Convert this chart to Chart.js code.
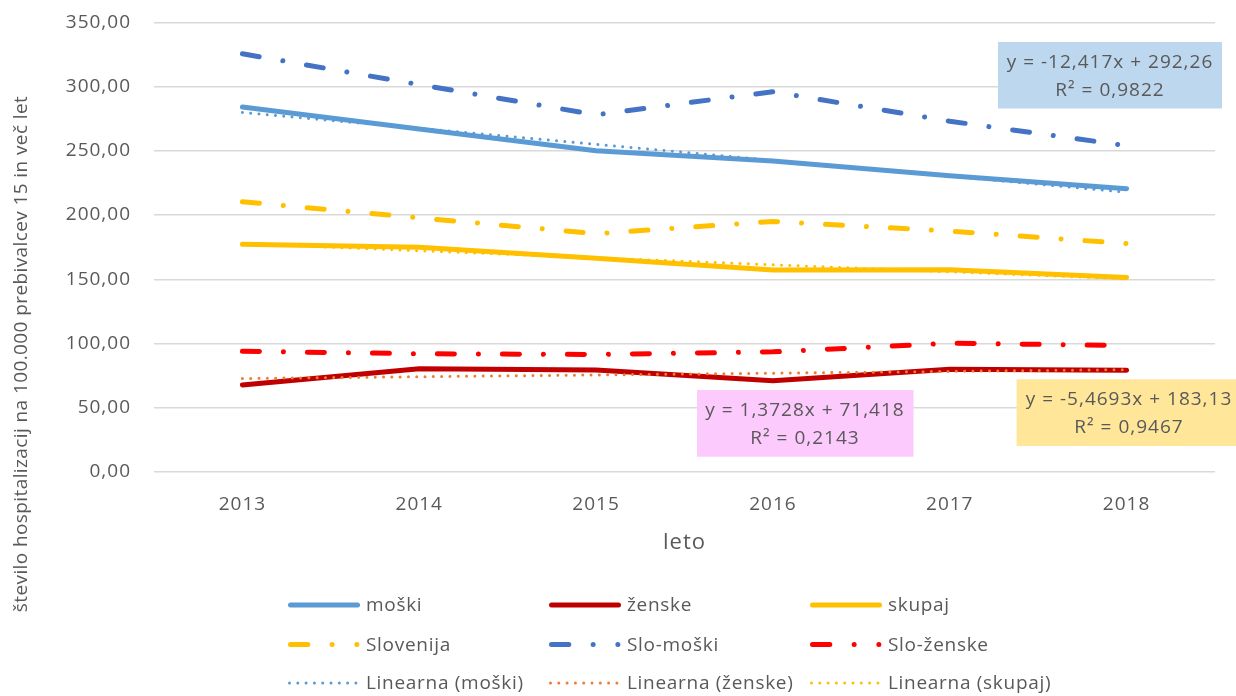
<!DOCTYPE html>
<html lang="sl">
<head>
<meta charset="utf-8">
<title>Hospitalizacije 2013–2018</title>
<script src="https://cdn.jsdelivr.net/npm/chart.js@4.4.1/dist/chart.umd.min.js"></script>
<style>
  html, body { margin: 0; padding: 0; background: #ffffff; }
  #wrap { width: 1236px; height: 696px; }
</style>
</head>
<body>
<div id="wrap"><canvas id="c" width="1236" height="696"></canvas></div>
<script>
// Categories (years)
const years = ['2013', '2014', '2015', '2016', '2017', '2018'];

// Rates per 100.000 inhabitants aged 15+
const moski = [284, 267, 250, 242, 230.5, 220.5];
const zenske = [67.8, 80.4, 79.3, 71, 80, 79.2];
const skupaj = [177.3, 175, 166.3, 157.3, 157.5, 151.4];
const slovenija = [210.3, 197.8, 185.5, 195, 187.5, 177.8];
const sloMoski = [325.5, 301.5, 278, 296, 273, 254];
const sloZenske = [94, 92, 91.5, 93.5, 100.2, 98.5];

// Linear trend coefficients (moški, ženske, skupaj) and their R²
const trendSlopes = [-12.417, 1.3728, -5.4693];
const trendIntercepts = [292.26, 71.418, 183.13];
const trendR2 = [0.9822, 0.2143, 0.9467];

// Y axis range and tick step
const yMin = 0, yMax = 350, yStep = 50;

const TEXT = '#595959';
const FONT = '"Open Sans", "Noto Sans", sans-serif';

const fmt = v => String(v).replace('.', ',');
const trendLine = k => years.map((_, i) => trendSlopes[k] * (i + 1) + trendIntercepts[k]);

const SOLID_W = 5, DASH_W = 5, DOT_W = 3;
const dashDot = [17, 24, 0.001, 24];
const dotted = [0.001, 8.3];

const datasets = [
  { label: 'moški', data: moski, borderColor: '#5B9BD5', borderWidth: SOLID_W, borderDash: [], order: 8 },
  { label: 'ženske', data: zenske, borderColor: '#C00000', borderWidth: SOLID_W, borderDash: [], order: 7 },
  { label: 'skupaj', data: skupaj, borderColor: '#FFC000', borderWidth: SOLID_W, borderDash: [], order: 6 },
  { label: 'Slovenija', data: slovenija, borderColor: '#FFC000', borderWidth: DASH_W, borderDash: dashDot, order: 5 },
  { label: 'Slo-moški', data: sloMoski, borderColor: '#4472C4', borderWidth: DASH_W, borderDash: dashDot, order: 4 },
  { label: 'Slo-ženske', data: sloZenske, borderColor: '#FF0000', borderWidth: DASH_W, borderDash: dashDot, order: 3 },
  { label: 'Linearna (moški)', data: trendLine(0), borderColor: '#5B9BD5', borderWidth: DOT_W, borderDash: dotted, order: 2 },
  { label: 'Linearna (ženske)', data: trendLine(1), borderColor: '#ED7D31', borderWidth: DOT_W, borderDash: dotted, order: 1 },
  { label: 'Linearna (skupaj)', data: trendLine(2), borderColor: '#FFC000', borderWidth: DOT_W, borderDash: dotted, order: 0 }
].map(d => Object.assign(d, {
  fill: false, pointRadius: 0, tension: 0,
  borderCapStyle: 'round', borderJoinStyle: 'round'
}));

// Slightly widened text, applied to everything the chart writes
const textSpacing = {
  id: 'textSpacing',
  beforeLayout(chart) { chart.ctx.letterSpacing = '1px'; },
  beforeDraw(chart) { chart.ctx.letterSpacing = '1px'; }
};

// Rotated y-axis title
const yTitle = {
  id: 'yTitle',
  afterDraw(chart) {
    const ctx = chart.ctx;
    ctx.save();
    ctx.letterSpacing = '0.4px';
    ctx.font = '19px ' + FONT;
    ctx.fillStyle = TEXT;
    ctx.translate(22, 354);
    ctx.rotate(-Math.PI / 2);
    ctx.textAlign = 'center';
    ctx.textBaseline = 'middle';
    ctx.fillText('število hospitalizacij na 100.000 prebivalcev 15 in več let', 0, 0);
    ctx.restore();
  }
};

// Trend equation boxes
const eqBoxes = {
  id: 'eqBoxes',
  afterDatasetsDraw(chart) {
    const ctx = chart.ctx;
    const boxes = [
      { k: 0, x: 998, y: 42, w: 224, h: 66.5, bg: '#BDD7EE', cx: 1110, l1: 63, l2: 91 },
      { k: 1, x: 697, y: 390, w: 216.5, h: 66.7, bg: '#FCCAFC', cx: 805, l1: 411, l2: 439 },
      { k: 2, x: 1016.6, y: 379.3, w: 225, h: 66.7, bg: '#FFE699', cx: 1129, l1: 400, l2: 428 }
    ];
    ctx.save();
    ctx.letterSpacing = '1px';
    ctx.font = '19px ' + FONT;
    ctx.textAlign = 'center';
    ctx.textBaseline = 'middle';
    boxes.forEach(b => {
      ctx.fillStyle = b.bg;
      ctx.fillRect(b.x, b.y, b.w, b.h);
      ctx.fillStyle = TEXT;
      ctx.fillText('y = ' + fmt(trendSlopes[b.k]) + 'x + ' + fmt(trendIntercepts[b.k]), b.cx, b.l1);
      ctx.fillText('R² = ' + fmt(trendR2[b.k]), b.cx, b.l2);
    });
    ctx.restore();
  }
};

// 3 x 3 legend under the plot
const gridLegend = {
  id: 'gridLegend',
  afterDraw(chart) {
    const ctx = chart.ctx;
    const colX = [288, 549, 810];
    const rowY = [605, 644.5, 683];
    const sampleLen = 72;
    ctx.save();
    ctx.letterSpacing = '0.7px';
    ctx.font = '19px ' + FONT;
    ctx.textBaseline = 'middle';
    ctx.textAlign = 'left';
    chart.data.datasets.forEach((ds, i) => {
      const x0 = colX[i % 3], y = rowY[Math.floor(i / 3)];
      const half = ds.borderWidth / 2;
      ctx.strokeStyle = ds.borderColor;
      ctx.lineWidth = ds.borderWidth;
      ctx.lineCap = 'round';
      let a = x0 + half, b = x0 + sampleLen - half;
      if (ds.borderDash === dashDot) {
        ctx.setLineDash([17.3, 24.35, 0.001, 24.7, 0.001, 200]);
        b = x0 + sampleLen + 2;
      } else {
        ctx.setLineDash(ds.borderDash);
      }
      ctx.beginPath();
      ctx.moveTo(a, y);
      ctx.lineTo(b, y);
      ctx.stroke();
      ctx.setLineDash([]);
      ctx.fillStyle = TEXT;
      ctx.fillText(ds.label, x0 + sampleLen + 6, y + 1);
    });
    ctx.restore();
  }
};

new Chart(document.getElementById('c'), {
  type: 'line',
  data: { labels: years, datasets },
  plugins: [textSpacing, eqBoxes, gridLegend, yTitle],
  options: {
    responsive: false,
    animation: false,
    events: [],
    layout: { padding: { top: 22.3, right: 21, bottom: 140, left: 0 } },
    plugins: { legend: { display: false }, tooltip: { enabled: false } },
    scales: {
      x: {
        offset: true,
        grid: { display: false },
        border: { display: false },
        ticks: { color: TEXT, font: { family: FONT, size: 19 }, padding: 13, maxRotation: 0 },
        title: { display: true, text: 'leto', color: TEXT, font: { family: FONT, size: 22 }, padding: 0 },
        afterFit(s) { s.height = 84; }
      },
      y: {
        min: yMin, max: yMax,
        ticks: {
          stepSize: yStep, color: TEXT, font: { family: FONT, size: 19 }, padding: 23,
          callback: v => v.toFixed(2).replace('.', ',')
        },
        grid: { color: '#D9D9D9', lineWidth: 1.5, drawTicks: false },
        border: { display: false },
        afterFit(s) {
          s.width = 154;
          // label gap only pushes labels sideways, not the plot top/bottom
          s.paddingTop = 12;
          s.paddingBottom = 12;
        }
      }
    }
  }
});
</script>
</body>
</html>
